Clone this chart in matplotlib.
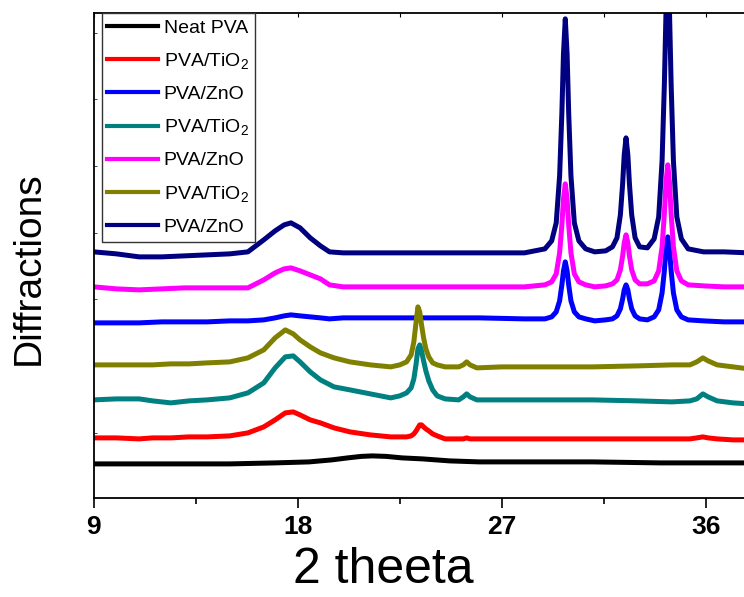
import numpy as np
import matplotlib
matplotlib.use("Agg")
import matplotlib.pyplot as plt
from matplotlib.ticker import MultipleLocator, FixedLocator

plt.rcParams['font.family'] = ['Liberation Sans', 'DejaVu Sans']
plt.rcParams['mathtext.fontset'] = 'custom'
plt.rcParams['mathtext.rm'] = 'Liberation Sans'
plt.rcParams['mathtext.it'] = 'Liberation Sans:italic'

# 2 theta grid for the ZnO samples
tt_zno = [9, 10, 11, 12, 13, 14, 15, 15.8, 16.5, 17.0, 17.4, 17.7, 18.1, 18.55, 19.0, 19.4, 20, 22, 24, 26, 28,
          28.9, 29.2, 29.4, 29.55, 29.65, 29.72, 29.8, 29.88, 29.95, 30.05, 30.2, 30.4, 30.7, 31.1,
          31.58, 31.88, 32.08, 32.23, 32.33, 32.4, 32.48, 32.56, 32.63, 32.73, 32.88, 33.08, 33.42,
          33.72, 33.92, 34.07, 34.17, 34.24, 34.32, 34.4, 34.47, 34.57, 34.72, 34.92, 35.22, 35.9, 36.8, 37.9]

ii_zno_blue = [175, 175, 175, 176, 176, 176, 177, 177, 178, 180, 182, 183, 182, 181, 180, 179, 180, 180, 180, 180, 179,
               179, 181, 186, 197, 213, 227, 236, 227, 213, 197, 186, 181, 179, 177,
               178, 179, 182, 189, 199, 208, 213, 208, 199, 189, 182, 179, 178,
               181, 188, 205, 227, 248, 261, 248, 227, 205, 188, 181, 178, 177, 176, 176]

ii_zno_mag = [211, 209, 208, 209, 210, 210, 210, 210, 218, 225, 229, 230, 227, 223, 219, 213, 211, 211, 211, 211, 211,
              213, 216, 224, 245, 273, 299, 314, 299, 273, 245, 224, 216, 213, 211,
              212, 214, 218, 228, 242, 255, 263, 255, 242, 228, 218, 214, 214,
              217, 227, 251, 284, 315, 333, 315, 284, 251, 227, 217, 213, 212, 211, 211]

ii_zno_navy = [246, 244, 241, 241, 242, 243, 244, 246, 258, 267, 273, 275, 270, 260, 252, 246, 245, 245, 245, 245, 245,
               249, 257, 275, 322, 385, 444, 479, 444, 385, 322, 275, 257, 249, 246,
               247, 251, 260, 283, 314, 343, 360, 343, 314, 283, 260, 251, 250,
               259, 281, 337, 413, 483, 525, 483, 413, 337, 281, 259, 249, 246, 246, 245]

# 2 theta grid for the TiO2 samples
tt_tio = [9, 10, 11, 11.6, 12.4, 13.2, 14, 15,
          15.8, 16.5, 17.0, 17.45, 17.8, 18.1, 18.55, 19.0, 19.6, 20.3, 21.2, 22.1,
          22.5, 22.8, 23.0, 23.12, 23.22, 23.3, 23.38, 23.46, 23.55, 23.65, 23.78, 23.95, 24.15, 24.5,
          25.1, 25.3, 25.45, 25.6, 25.9,
          27, 29, 31, 33, 34.5, 35.3, 35.6, 35.87, 36.1, 36.5, 37.2, 37.9]

ii_tio_red = [60, 60, 59, 60, 60, 61, 61, 62,
              65, 71, 78, 85, 86, 83, 78, 75, 70, 66, 63, 61,
              61, 61, 62, 64, 67, 70, 73, 73, 71, 69, 67, 64, 62, 59,
              59, 59, 60, 59, 59,
              59, 59, 59, 59, 59, 59, 60, 61, 60, 59, 58, 58]

ii_tio_teal = [98, 99, 99, 97, 95, 97, 98, 100,
               105, 115, 130, 141, 142, 136, 126, 118, 111, 108, 104, 100,
               102, 105, 110, 119, 134, 149, 153, 147, 137, 127, 117, 108, 102, 99,
               98, 101, 104, 101, 98,
               98, 98, 98, 97, 96, 97, 99, 104, 101, 97, 95, 94]

ii_tio_olive = [133, 133, 133, 133, 134, 134, 135, 136,
                140, 148, 160, 168, 164, 158, 151, 145, 140, 136, 133, 131,
                133, 136, 143, 156, 176, 191, 186, 173, 160, 149, 141, 135, 133, 131,
                131, 133, 136, 133, 130,
                131, 131, 131, 132, 133, 133, 136, 140, 137, 133, 131, 129]

# neat PVA
tt_neat = [9, 11, 13, 15, 17, 18.5, 19.5, 20.2, 20.8, 21.3, 21.9, 22.6, 23.5, 24.7, 26, 28, 31, 34, 37.9]
ii_neat = [34, 34, 34, 34, 35, 36, 38, 40, 41.5, 42, 41.5, 40, 39, 37, 36, 36, 36, 35, 35]

labels = ['Neat PVA', 'PVA/TiO$_{\\mathrm{2}}$', 'PVA/ZnO', 'PVA/TiO$_{\\mathrm{2}}$',
          'PVA/ZnO', 'PVA/TiO$_{\\mathrm{2}}$', 'PVA/ZnO']
colors = ['#000000', '#FF0000', '#0000FF', '#008080', '#FF00FF', '#808000', '#000080']
series = [(tt_neat, ii_neat), (tt_tio, ii_tio_red), (tt_zno, ii_zno_blue), (tt_tio, ii_tio_teal),
          (tt_zno, ii_zno_mag), (tt_tio, ii_tio_olive), (tt_zno, ii_zno_navy)]

fig = plt.figure(figsize=(7.44, 5.97), dpi=100)
ax = fig.add_axes([0.126, 0.166, 0.88, 0.812])

for (x, y), c, lab in zip(series, colors, labels):
    ax.plot(x, y, color=c, lw=3.6, label=lab, solid_joinstyle='round')

ax.set_xlim(9, 9 + 0.88 * 744 / 22.67)
ax.set_ylim(0, 484.7)

ax.xaxis.set_major_locator(MultipleLocator(9))
ax.xaxis.set_minor_locator(MultipleLocator(4.5))
ax.yaxis.set_major_locator(FixedLocator(np.arange(65, 484, 66.7)))
ax.set_yticklabels([])

ax.tick_params(axis='x', which='major', direction='out', length=7, width=1.2,
               labelsize=19, pad=5, top=True)
ax.tick_params(axis='x', which='minor', direction='out', length=4, width=1.2, top=True)
ax.tick_params(axis='y', which='major', direction='in', length=2.5, width=0.7, left=True,
               color='#444444')
for lbl in ax.get_xticklabels():
    lbl.set_fontweight('bold')

# top ticks point inward and are lighter
for t in ax.xaxis.get_major_ticks() + ax.xaxis.get_minor_ticks():
    t.tick2line.set_marker(matplotlib.markers.TICKDOWN)
    t.tick2line.set_markersize(3)
    t.tick2line.set_markeredgewidth(0.8)
    t.tick2line.set_color('#555555')

for s in ['left', 'bottom', 'top']:
    ax.spines[s].set_linewidth(1.3)
ax.spines['right'].set_visible(False)

ax.set_xlabel('2 theeta', fontsize=36)
ax.xaxis.set_label_coords(0.443, -0.101)
ax.set_ylabel('Diffractions', fontsize=28)
ax.yaxis.set_label_coords(-0.072, 0.4735)

leg = ax.legend(loc='upper left', bbox_to_anchor=(0.012, 1.0), borderaxespad=0,
                fontsize=14, frameon=True, fancybox=False, edgecolor='#333333',
                handlelength=2.6, handletextpad=0.3, labelspacing=0.74,
                borderpad=0.3, framealpha=1)
leg.get_frame().set_linewidth(1.0)
for h in leg.get_lines():
    h.set_linewidth(3.0)

fig.savefig('out.png', dpi=100)
